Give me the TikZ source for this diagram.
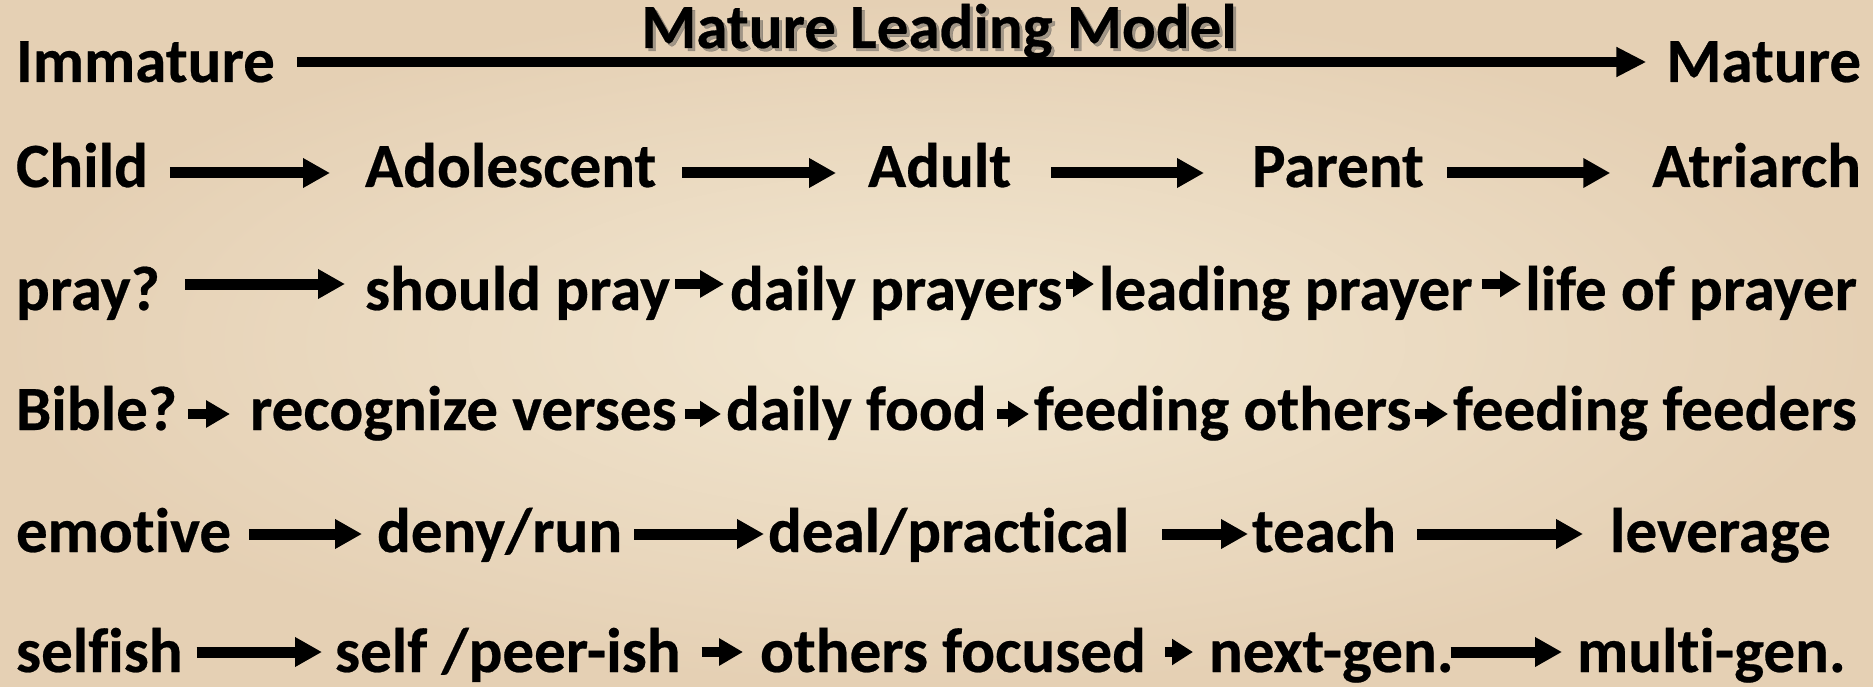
\documentclass[tikz,border=0pt]{standalone}
\usepackage{fontspec}
\setmainfont{Carlito}[Ligatures=NoCommon, FakeBold=0.4]
\usetikzlibrary{arrows.meta}
\definecolor{paperin}{RGB}{242,231,209}
\definecolor{paperout}{RGB}{229,208,180}
\begin{document}
\begin{tikzpicture}[x=1pt,y=-1pt,
  txt/.style={inner sep=0pt, outer sep=0pt, font=\fontsize{63}{70}\selectfont\bfseries, anchor=base west},
  rtxt/.style={txt, anchor=base east},
  arrTop/.style={line width=10pt, -{Triangle[length=30pt,width=28pt]}},
  arrL/.style={line width=11pt, -{Triangle[length=27pt,width=28pt]}},
  arrS/.style={line width=10.5pt, -{Triangle[length=24pt,width=26pt]}},
  arrT/.style={line width=9.5pt, -{Triangle[length=21pt,width=25pt]}}]
\useasboundingbox (0,0) rectangle (1873,687);
\shade[inner color=paperin, outer color=paperout] (0,0) rectangle (1873,687);

% title
\node[txt, anchor=base, text=black!70, opacity=0.45] (tsh) at (942,51) {Mature Leading Model};
\node[txt, anchor=base] (title) at (939,48) {Mature Leading Model};

% row 1
\node[txt] (imm) at (16,82) {Immature};
\node[rtxt] (mat) at (1861,82) {Mature};
\draw[arrTop] ([xshift=22pt,yshift=20pt]imm.base east) -- ([xshift=-20pt,yshift=20pt]mat.base west);

% row 2
\node[txt] (child) at (16,187) {Child};
\node[txt] (adol) at (365,187) {Adolescent};
\node[txt] (adult) at (868,187) {Adult};
\node[txt] (parent) at (1252,187) {Parent};
\node[rtxt] (atri) at (1861,187) {Atriarch};
\draw[arrL] ([xshift=22pt,yshift=14pt]child.base east) -- ([xshift=-35pt,yshift=14pt]adol.base west);
\draw[arrL] ([xshift=26pt,yshift=14pt]adol.base east) -- ([xshift=-32pt,yshift=14pt]adult.base west);
\draw[arrL] ([xshift=40pt,yshift=14pt]adult.base east) -- ([xshift=-48pt,yshift=14pt]parent.base west);
\draw[arrL] ([xshift=23pt,yshift=14pt]parent.base east) -- ([xshift=-42pt,yshift=14pt]atri.base west);

% row 3
\node[txt] (pray) at (16,310) {pray?};
\node[txt] (should) at (365,310) {should pray};
\node[txt] (daily) at (730,310) {daily prayers};
\node[txt] (leading) at (1099,310) {leading prayer};
\node[rtxt] (life) at (1857,310) {life of prayer};
\draw[arrL] ([xshift=25pt,yshift=26pt]pray.base east) -- ([xshift=-20pt,yshift=26pt]should.base west);
\draw[arrS] ([xshift=5pt,yshift=26pt]should.base east) -- ([xshift=-6pt,yshift=26pt]daily.base west);
\draw[arrT] ([xshift=4pt,yshift=26pt]daily.base east) -- ([xshift=-5pt,yshift=26pt]leading.base west);
\draw[arrT] ([xshift=9pt,yshift=26pt]leading.base east) -- ([xshift=-4pt,yshift=26pt]life.base west);

% row 4
\node[txt] (bible) at (16,430) {Bible?};
\node[txt] (recog) at (250,430) {recognize verses};
\node[txt] (food) at (726,430) {daily food};
\node[txt] (feedo) at (1034,430) {feeding others};
\node[rtxt] (feedf) at (1857,430) {feeding feeders};
\draw[arrS] ([xshift=11pt,yshift=16pt]bible.base east) -- ([xshift=-20pt,yshift=16pt]recog.base west);
\draw[arrT] ([xshift=8pt,yshift=16pt]recog.base east) -- ([xshift=-5pt,yshift=16pt]food.base west);
\draw[arrT] ([xshift=11pt,yshift=16pt]food.base east) -- ([xshift=-5pt,yshift=16pt]feedo.base west);
\draw[arrT] ([xshift=4pt,yshift=16pt]feedo.base east) -- ([xshift=-5pt,yshift=16pt]feedf.base west);

% row 5
\node[txt] (emot) at (16,552) {emotive};
\node[txt] (deny) at (377,552) {deny/run};
\node[txt] (deal) at (768,552) {deal/practical};
\node[txt] (teach) at (1252,552) {teach};
\node[txt] (lev) at (1610,552) {leverage};
\draw[arrL] ([xshift=18pt,yshift=18pt]emot.base east) -- ([xshift=-15pt,yshift=18pt]deny.base west);
\draw[arrL] ([xshift=12pt,yshift=18pt]deny.base east) -- ([xshift=-4pt,yshift=18pt]deal.base west);
\draw[arrL] ([xshift=33pt,yshift=18pt]deal.base east) -- ([xshift=-4pt,yshift=18pt]teach.base west);
\draw[arrL] ([xshift=21pt,yshift=18pt]teach.base east) -- ([xshift=-27pt,yshift=18pt]lev.base west);

% row 6
\node[txt] (selfish) at (16,672) {selfish};
\node[txt] (peer) at (335,672) {self /peer-ish};
\node[txt] (others) at (760,672) {others focused};
\node[txt] (next) at (1209,672) {next-gen.};
\node[txt] (multi) at (1577,672) {multi-gen.};
\draw[arrL] ([xshift=14pt,yshift=20pt]selfish.base east) -- ([xshift=-13pt,yshift=20pt]peer.base west);
\draw[arrS] ([xshift=21pt,yshift=20pt]peer.base east) -- ([xshift=-17pt,yshift=20pt]others.base west);
\draw[arrT] ([xshift=19pt,yshift=20pt]others.base east) -- ([xshift=-16pt,yshift=20pt]next.base west);
\draw[arrL] ([xshift=-3pt,yshift=20pt]next.base east) -- ([xshift=-15pt,yshift=20pt]multi.base west);
\end{tikzpicture}
\end{document}
